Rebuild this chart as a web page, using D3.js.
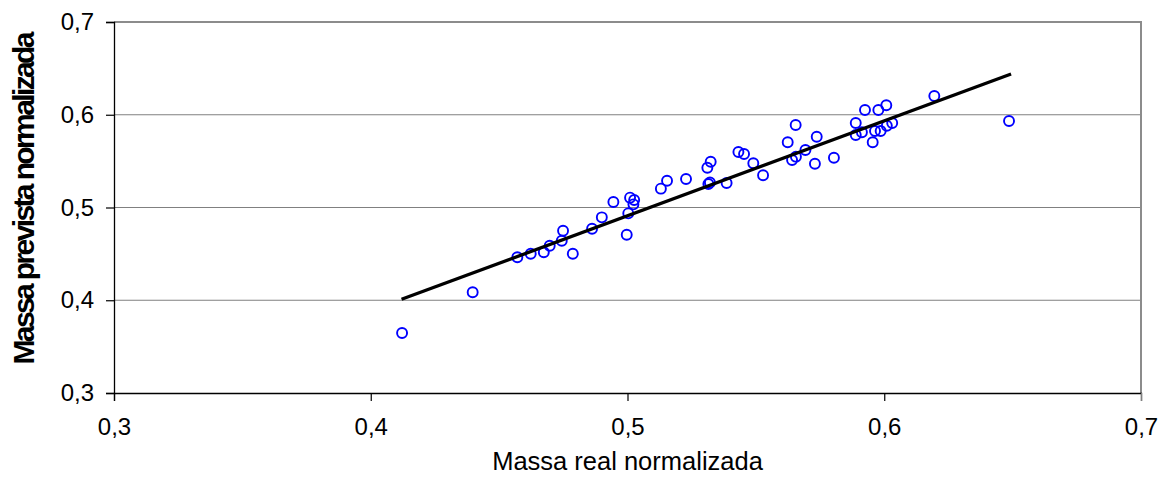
<!DOCTYPE html>
<html>
<head>
<meta charset="utf-8">
<script src="https://cdn.jsdelivr.net/npm/d3@7"></script>
<style>
  body { margin: 0; background: #fff; }
  svg text { font-family: Arial, "Liberation Sans", sans-serif; }
</style>
</head>
<body>
<svg id="chart" width="1169" height="477"></svg>
<script>
// massa real normalizada (x) / massa prevista normalizada (y)
var realMass = [0.4122, 0.4397, 0.4571, 0.4623, 0.4674, 0.4697, 0.4744, 0.4749, 0.4787, 0.4862,
    0.4900, 0.4945, 0.4997, 0.5003, 0.5010, 0.5023, 0.5026, 0.5130, 0.5154, 0.5228,
    0.5311, 0.5324, 0.5315, 0.5321, 0.5386, 0.5432, 0.5454, 0.5490, 0.5528, 0.5624,
    0.5655, 0.5641, 0.5656, 0.5693, 0.5730, 0.5737, 0.5804, 0.5889, 0.5889, 0.5913,
    0.5925, 0.5955, 0.5964, 0.5977, 0.5986, 0.6008, 0.6010, 0.6031, 0.6195, 0.6486];
var predMass = [0.3647, 0.4086, 0.4463, 0.4502, 0.4517, 0.4588, 0.4642, 0.4750, 0.4502, 0.4771,
    0.4894, 0.5059, 0.4707, 0.4937, 0.5106, 0.5034, 0.5081, 0.5203, 0.5289, 0.5307,
    0.5429, 0.5494, 0.5253, 0.5270, 0.5264, 0.5598, 0.5577, 0.5477, 0.5347, 0.5703,
    0.5889, 0.5512, 0.5548, 0.5620, 0.5472, 0.5763, 0.5537, 0.5911, 0.5782, 0.5811,
    0.6051, 0.5703, 0.5825, 0.6051, 0.5825, 0.6102, 0.5882, 0.5911, 0.6202, 0.5933];
// linha de tendencia (extremos)
var trendX = [0.412, 0.6494];
var trendY = [0.401, 0.6439];
var xTicks = [0.3, 0.4, 0.5, 0.6, 0.7];
var yTicks = [0.3, 0.4, 0.5, 0.6, 0.7];
var xTitle = "Massa real normalizada";
var yTitle = "Massa prevista normalizada";

var svg = d3.select("#chart");
var mLeft = 114, mRight = 1141, mTop = 22, mBottom = 393;

var fnScaleX = d3.scaleLinear().domain([0.3, 0.7]).range([mLeft, mRight]);
var fnScaleY = d3.scaleLinear().domain([0.3, 0.7]).range([mBottom, mTop]);
var fmt = function (d) { return d3.format(".1f")(d).replace(".", ","); };

// grade
svg.append("g").selectAll("line")
    .data(yTicks.slice(1, -1)).enter().append("line")
    .attr("x1", mLeft).attr("x2", mRight)
    .attr("y1", function (d) { return fnScaleY(d); })
    .attr("y2", function (d) { return fnScaleY(d); })
    .attr("stroke", "#808080").attr("stroke-width", 1.2);

// borda superior e direita
svg.append("path")
    .attr("d", "M" + mLeft + "," + mTop + "H" + mRight + "V" + mBottom)
    .attr("fill", "none").attr("stroke", "#8c8c8c").attr("stroke-width", 2);

var axisX = d3.axisBottom(fnScaleX).tickValues(xTicks).tickFormat(fmt).tickSize(8).tickPadding(17);
var gx = svg.append("g")
    .attr("transform", "translate(0," + mBottom + ")")
    .call(axisX);
var axisY = d3.axisLeft(fnScaleY).tickValues(yTicks).tickFormat(fmt).tickSize(8).tickPadding(12);
var gy = svg.append("g")
    .attr("transform", "translate(" + mLeft + ",0)")
    .call(axisY);
[gx, gy].forEach(function (g) {
    g.select(".domain").attr("stroke", "#000").attr("stroke-width", 1.3);
    g.selectAll(".tick line").attr("stroke", "#000").attr("stroke-width", 1.2);
    g.selectAll("text").attr("font-size", 24).attr("fill", "#000")
        .style("font-family", "Arial, 'Liberation Sans', sans-serif");
});
gx.select(".tick:last-of-type line").attr("stroke", "#808080");

// pontos
svg.append("g").selectAll("circle")
    .data(realMass).enter().append("circle")
    .attr("cx", function (d) { return fnScaleX(d); })
    .attr("cy", function (d, i) { return fnScaleY(predMass[i]); })
    .attr("r", 5)
    .attr("fill", "none")
    .attr("stroke", "#0000ff")
    .attr("stroke-width", 1.9);

// tendencia
var fnLine = d3.line()
    .x(function (d) { return fnScaleX(d); })
    .y(function (d, i) { return fnScaleY(trendY[i]); });
svg.append("path").datum(trendX)
    .attr("d", fnLine)
    .attr("fill", "none")
    .attr("stroke", "#000")
    .attr("stroke-width", 3.3);

// titulos
svg.append("text")
    .attr("x", (mLeft + mRight) / 2).attr("y", 470)
    .attr("text-anchor", "middle")
    .attr("font-size", 25.5)
    .text(xTitle);

svg.append("text")
    .attr("transform", "translate(34," + 198 + ") rotate(-90)")
    .attr("text-anchor", "middle")
    .attr("font-size", 30)
    .attr("font-weight", "bold")
    .attr("textLength", 333)
    .attr("lengthAdjust", "spacing")
    .text(yTitle);
</script>
</body>
</html>
